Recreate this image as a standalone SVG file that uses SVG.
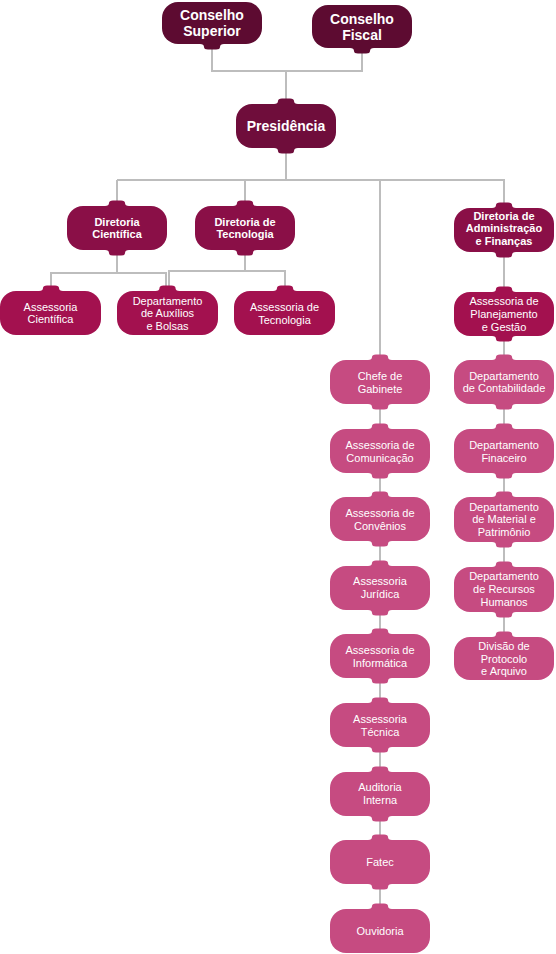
<svg xmlns="http://www.w3.org/2000/svg" xmlns:xlink="http://www.w3.org/1999/xlink" width="556" height="954" viewBox="0 0 556 954">
<style>
.c1{fill:#5d0b31}
.c2{fill:#6f0d3b}
.c3{fill:#8a0f47}
.c4{fill:#a3114f}
.c5{fill:#c64b81}
text{font-family:"Liberation Sans",Arial,sans-serif;fill:#ffffff;text-anchor:middle}
.b14{font-size:14px;font-weight:bold}
.b11{font-size:11px;font-weight:bold}
.r11{font-size:11px}
.ln{stroke:#bdbdbd;stroke-width:2;fill:none}
</style>
<defs>
<path id="bt" d="M-12,1 L-12,0 Q-8,0 -8,-3 Q-8,-5.5 -4,-5.5 L4,-5.5 Q8,-5.5 8,-3 Q8,0 12,0 L12,1 Z"/>
<path id="bb" d="M-12,-1 L-12,0 Q-8,0 -8,3 Q-8,5.5 -4,5.5 L4,5.5 Q8,5.5 8,3 Q8,0 12,0 L12,-1 Z"/>
</defs>
<rect width="556" height="954" fill="#ffffff"/>
<g id="connectors" class="ln">
<polyline points="212,44 212,71 362,71 362,48"/>
<line x1="286" y1="71" x2="286" y2="104"/>
<line x1="286" y1="148" x2="286" y2="180"/>
<line x1="117" y1="180" x2="505" y2="180"/>
<line x1="117" y1="180" x2="117" y2="206"/>
<line x1="245" y1="180" x2="245" y2="206"/>
<line x1="380" y1="180" x2="380" y2="909"/>
<line x1="504" y1="180" x2="504" y2="637"/>
<polyline points="117,250 117,273"/>
<polyline points="51,291 51,273 166,273 166,291"/>
<polyline points="245,250 245,271"/>
<polyline points="169,291 169,271 285,271 285,291"/>
</g>

<g id="conselho-superior" class="c1">
<rect x="162" y="2" width="100" height="42" rx="16"/>
<use xlink:href="#bb" x="212" y="44"/>
<text class="b14" x="212" y="20">Conselho</text>
<text class="b14" x="212" y="36">Superior</text>
</g>
<g id="conselho-fiscal" class="c1">
<rect x="312" y="5" width="100" height="43" rx="16"/>
<use xlink:href="#bb" x="362" y="48"/>
<text class="b14" x="362" y="24">Conselho</text>
<text class="b14" x="362" y="40">Fiscal</text>
</g>
<g id="presidencia" class="c2">
<rect x="236" y="104" width="100" height="44" rx="16"/>
<use xlink:href="#bt" x="286" y="104"/>
<use xlink:href="#bb" x="286" y="148"/>
<text class="b14" x="286" y="131">Presidência</text>
</g>

<g id="diretoria-cientifica" class="c3">
<rect x="67" y="206" width="100" height="44" rx="16"/>
<use xlink:href="#bt" x="117" y="206"/>
<use xlink:href="#bb" x="117" y="250"/>
<text class="b11" x="117" y="226">Diretoria</text>
<text class="b11" x="117" y="238">Científica</text>
</g>
<g id="diretoria-tecnologia" class="c3">
<rect x="195" y="206" width="100" height="44" rx="16"/>
<use xlink:href="#bt" x="245" y="206"/>
<use xlink:href="#bb" x="245" y="250"/>
<text class="b11" x="245" y="226">Diretoria de</text>
<text class="b11" x="245" y="238">Tecnologia</text>
</g>
<g id="diretoria-administracao" class="c3">
<rect x="454" y="208" width="100" height="44" rx="16"/>
<use xlink:href="#bt" x="504" y="208"/>
<use xlink:href="#bb" x="504" y="252"/>
<text class="b11" x="504" y="219.5">Diretoria de</text>
<text class="b11" x="504" y="232">Administração</text>
<text class="b11" x="504" y="244.5">e Finanças</text>
</g>

<g id="assessoria-cientifica" class="c4">
<rect x="0" y="291" width="101" height="44" rx="16"/>
<use xlink:href="#bt" x="51" y="291"/>
<text class="r11" x="50.5" y="311">Assessoria</text>
<text class="r11" x="50.5" y="323">Científica</text>
</g>
<g id="departamento-auxilios" class="c4">
<rect x="117" y="291" width="101" height="44" rx="16"/>
<use xlink:href="#bt" x="167.5" y="291"/>
<text class="r11" x="167.5" y="305">Departamento</text>
<text class="r11" x="167.5" y="317">de Auxílios</text>
<text class="r11" x="167.5" y="330">e Bolsas</text>
</g>
<g id="assessoria-tecnologia" class="c4">
<rect x="234" y="291" width="101" height="44" rx="16"/>
<use xlink:href="#bt" x="285" y="291"/>
<text class="r11" x="284.5" y="311">Assessoria de</text>
<text class="r11" x="284.5" y="324">Tecnologia</text>
</g>
<g id="assessoria-planejamento" class="c4">
<rect x="454" y="292" width="100" height="44" rx="16"/>
<use xlink:href="#bt" x="504" y="292"/>
<use xlink:href="#bb" x="504" y="336"/>
<text class="r11" x="504" y="305">Assessoria de</text>
<text class="r11" x="504" y="318">Planejamento</text>
<text class="r11" x="504" y="331">e Gestão</text>
</g>

<g id="chefe-gabinete" class="c5">
<rect x="330" y="360" width="100" height="44" rx="16"/>
<use xlink:href="#bt" x="380" y="360"/>
<use xlink:href="#bb" x="380" y="404"/>
<text class="r11" x="380" y="380">Chefe de</text>
<text class="r11" x="380" y="393">Gabinete</text>
</g>
<g id="assessoria-comunicacao" class="c5">
<rect x="330" y="429" width="100" height="44" rx="16"/>
<use xlink:href="#bt" x="380" y="429"/>
<use xlink:href="#bb" x="380" y="473"/>
<text class="r11" x="380" y="449">Assessoria de</text>
<text class="r11" x="380" y="462">Comunicação</text>
</g>
<g id="assessoria-convenios" class="c5">
<rect x="330" y="497" width="100" height="44" rx="16"/>
<use xlink:href="#bt" x="380" y="497"/>
<use xlink:href="#bb" x="380" y="541"/>
<text class="r11" x="380" y="517">Assessoria de</text>
<text class="r11" x="380" y="530">Convênios</text>
</g>
<g id="assessoria-juridica" class="c5">
<rect x="330" y="566" width="100" height="44" rx="16"/>
<use xlink:href="#bt" x="380" y="566"/>
<use xlink:href="#bb" x="380" y="610"/>
<text class="r11" x="380" y="585">Assessoria</text>
<text class="r11" x="380" y="598">Jurídica</text>
</g>
<g id="assessoria-informatica" class="c5">
<rect x="330" y="634" width="100" height="44" rx="16"/>
<use xlink:href="#bt" x="380" y="634"/>
<use xlink:href="#bb" x="380" y="678"/>
<text class="r11" x="380" y="654">Assessoria de</text>
<text class="r11" x="380" y="667">Informática</text>
</g>
<g id="assessoria-tecnica" class="c5">
<rect x="330" y="703" width="100" height="44" rx="16"/>
<use xlink:href="#bt" x="380" y="703"/>
<use xlink:href="#bb" x="380" y="747"/>
<text class="r11" x="380" y="723">Assessoria</text>
<text class="r11" x="380" y="736">Técnica</text>
</g>
<g id="auditoria-interna" class="c5">
<rect x="330" y="772" width="100" height="44" rx="16"/>
<use xlink:href="#bt" x="380" y="772"/>
<use xlink:href="#bb" x="380" y="816"/>
<text class="r11" x="380" y="791">Auditoria</text>
<text class="r11" x="380" y="804">Interna</text>
</g>
<g id="fatec" class="c5">
<rect x="330" y="840" width="100" height="44" rx="16"/>
<use xlink:href="#bt" x="380" y="840"/>
<use xlink:href="#bb" x="380" y="884"/>
<text class="r11" x="380" y="866">Fatec</text>
</g>
<g id="ouvidoria" class="c5">
<rect x="330" y="909" width="100" height="44" rx="16"/>
<use xlink:href="#bt" x="380" y="909"/>
<text class="r11" x="380" y="935">Ouvidoria</text>
</g>

<g id="departamento-contabilidade" class="c5">
<rect x="454" y="360" width="100" height="44" rx="16"/>
<use xlink:href="#bt" x="504" y="360"/>
<use xlink:href="#bb" x="504" y="404"/>
<text class="r11" x="504" y="380">Departamento</text>
<text class="r11" x="504" y="392">de Contabilidade</text>
</g>
<g id="departamento-financeiro" class="c5">
<rect x="454" y="429" width="100" height="44" rx="16"/>
<use xlink:href="#bt" x="504" y="429"/>
<use xlink:href="#bb" x="504" y="473"/>
<text class="r11" x="504" y="449">Departamento</text>
<text class="r11" x="504" y="462">Finaceiro</text>
</g>
<g id="departamento-material" class="c5">
<rect x="454" y="497" width="100" height="45" rx="16"/>
<use xlink:href="#bt" x="504" y="497"/>
<use xlink:href="#bb" x="504" y="542"/>
<text class="r11" x="504" y="511">Departamento</text>
<text class="r11" x="504" y="523">de Material e</text>
<text class="r11" x="504" y="536">Patrimônio</text>
</g>
<g id="departamento-recursos-humanos" class="c5">
<rect x="454" y="567" width="100" height="45" rx="16"/>
<use xlink:href="#bt" x="504" y="567"/>
<use xlink:href="#bb" x="504" y="612"/>
<text class="r11" x="504" y="580">Departamento</text>
<text class="r11" x="504" y="593">de Recursos</text>
<text class="r11" x="504" y="606">Humanos</text>
</g>
<g id="divisao-protocolo" class="c5">
<rect x="454" y="637" width="100" height="43" rx="16"/>
<use xlink:href="#bt" x="504" y="637"/>
<text class="r11" x="504" y="650">Divisão de</text>
<text class="r11" x="504" y="662.5">Protocolo</text>
<text class="r11" x="504" y="675">e Arquivo</text>
</g>
</svg>
